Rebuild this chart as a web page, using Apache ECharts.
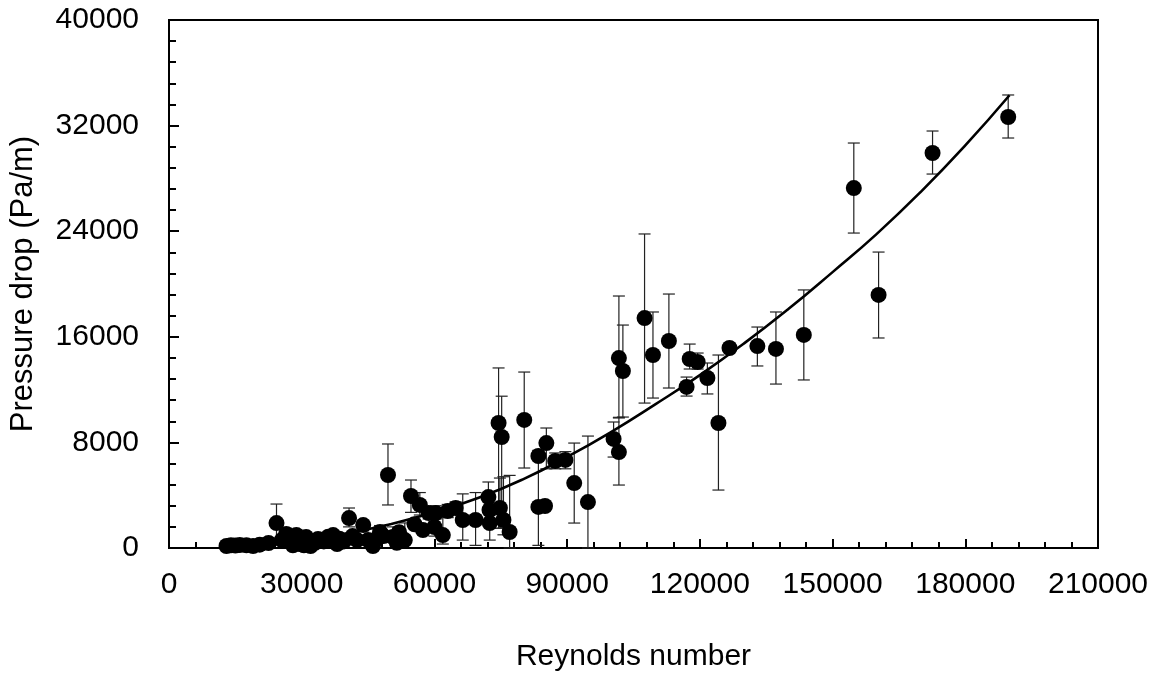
<!DOCTYPE html>
<html>
<head>
<meta charset="utf-8">
<script src="https://cdn.jsdelivr.net/npm/echarts@6/dist/echarts.min.js"></script>
<style>
html,body{margin:0;padding:0;background:#fff;}
#chart{width:1154px;height:678px;}
</style>
</head>
<body>
<div id="chart"></div>
<script>
// Reynolds number of each measurement
var reynolds = [13000,14000,15000,16000,17500,19000,20500,22500,24300,25500,26500,27500,28000,28800,29500,30500,31000,32000,33000,33700,35000,36000,37100,38000,38500,39500,40700,41500,42500,43900,45000,46100,47000,47700,48500,49500,50600,51500,52000,53300,54700,55500,56700,57400,58700,60000,60300,61900,63000,64800,66400,69300,72200,72450,72500,74500,74800,75200,75600,77000,80300,83500,83500,85000,85300,87300,89600,91600,94700,100500,101700,101700,102600,107500,109400,113000,117000,117700,119500,121700,124200,126700,133000,137200,143500,154800,160400,172600,189700];
// Measured pressure drop (Pa/m)
var pressure = [150,200,180,220,200,150,250,380,1890,600,1060,500,200,980,300,200,830,150,400,680,500,850,980,300,700,500,2270,900,600,1740,600,150,700,1210,900,5530,830,400,1200,600,3940,1800,3260,1360,2650,1590,2650,980,2800,3030,2120,2120,3860,2880,1890,9470,3030,8410,2120,1210,9700,6970,3110,3180,7950,6590,6670,4920,3480,8260,7270,14390,13410,17420,14620,15680,12200,14320,14090,12880,9470,15150,15300,15080,16140,27270,19170,29925,32650];
// Lower end of error bar
var errLow = [150,200,180,220,200,150,250,380,500,600,700,500,200,700,300,200,600,150,400,500,500,700,800,300,700,500,1600,900,600,1300,600,150,700,900,900,3260,500,400,1200,300,2700,1800,2500,1360,2200,900,2200,300,2300,2600,600,200,3000,2880,600,1500,1500,1800,1000,0,6060,200,3110,3180,6000,6000,6000,1890,0,6890,4770,9850,9920,10980,11360,12120,11510,13560,13560,11670,4390,15150,13790,12420,12730,23860,15910,28330,31060];
// Upper end of error bar
var errHigh = [150,200,180,220,200,150,250,380,3330,600,1500,500,200,1400,300,200,1200,150,400,900,500,1000,1200,300,700,500,3030,900,600,2100,600,150,700,1700,900,7880,1600,400,1200,1900,5150,1800,4200,1360,3100,2800,3200,2700,3300,3500,4100,4200,5000,2880,2500,13640,5300,11500,5400,5500,13330,7400,3110,3180,9090,7200,7300,7950,8480,9545,9900,19090,16890,23790,17880,19240,12950,15450,14770,14015,14620,15150,16740,17880,19550,30680,22420,31590,34320];
// Trend curve
var fitRe = [13000,20000,30000,40000,50000,60000,70000,80000,90000,100000,110000,120000,130000,140000,150000,160000,170000,180000,190000];
var fitDp = [95,240,600,1090,1800,2700,3800,5200,6900,8800,10900,13100,15500,18100,20900,23800,27000,30500,34300];

var xTicks = [0,30000,60000,90000,120000,150000,180000,210000];
var yTicks = [0,8000,16000,24000,32000,40000];

var pts = reynolds.map(function(r,i){return [r, pressure[i]];});
var bars = reynolds.map(function(r,i){return [r, errLow[i], errHigh[i]];});
var fit = fitRe.map(function(r,i){return [r, fitDp[i]];});

var font = 'Liberation Sans, Arial, sans-serif';
var plain = function(v){return String(v);};
var chart = echarts.init(document.getElementById('chart'));
chart.setOption({
  animation:false,
  backgroundColor:'#fff',
  grid:{left:165,right:56,top:20,bottom:130,show:true,borderColor:'#000',borderWidth:2,backgroundColor:'transparent'},
  xAxis:{
    type:'value',min:xTicks[0],max:xTicks[xTicks.length-1],interval:30000,
    name:'Reynolds number',nameLocation:'middle',nameGap:94,
    nameTextStyle:{fontFamily:font,fontSize:30,color:'#000'},
    axisLine:{show:true,lineStyle:{color:'#000',width:2}},
    axisTick:{show:true,inside:true,length:9,lineStyle:{color:'#000',width:2}},
    minorTick:{show:true,splitNumber:5,length:6,lineStyle:{color:'#000',width:2}},
    splitLine:{show:false},
    axisLabel:{fontFamily:font,fontSize:30,color:'#000',margin:22,formatter:plain}
  },
  yAxis:{
    type:'value',min:yTicks[0],max:yTicks[yTicks.length-1],interval:8000,
    name:'Pressure drop (Pa/m)',nameLocation:'middle',nameGap:130,
    nameTextStyle:{fontFamily:font,fontSize:31,color:'#000'},
    axisLine:{show:true,lineStyle:{color:'#000',width:2}},
    axisTick:{show:true,inside:true,length:10,lineStyle:{color:'#000',width:2}},
    minorTick:{show:true,splitNumber:5,length:7,lineStyle:{color:'#000',width:2}},
    splitLine:{show:false},
    axisLabel:{fontFamily:font,fontSize:30,color:'#000',margin:30,formatter:plain}
  },
  series:[
    {
      type:'custom',
      data:bars,
      z:2,
      renderItem:function(params,api){
        var x = api.value(0);
        var lo = api.coord([x, api.value(1)]);
        var hi = api.coord([x, api.value(2)]);
        var cw = 6;
        var style = {stroke:'#222',lineWidth:1.2};
        return {type:'group',children:[
          {type:'line',shape:{x1:lo[0],y1:lo[1],x2:hi[0],y2:hi[1]},style:style},
          {type:'line',shape:{x1:hi[0]-cw,y1:hi[1],x2:hi[0]+cw,y2:hi[1]},style:style},
          {type:'line',shape:{x1:lo[0]-cw,y1:lo[1],x2:lo[0]+cw,y2:lo[1]},style:style}
        ]};
      }
    },
    {
      type:'scatter',data:pts,symbol:'circle',symbolSize:16,z:3,
      itemStyle:{color:'#000',opacity:1}
    },
    {
      type:'line',data:fit,smooth:0.5,showSymbol:false,symbol:'none',z:4,
      lineStyle:{color:'#000',width:2.6}
    }
  ]
});
</script>
</body>
</html>
